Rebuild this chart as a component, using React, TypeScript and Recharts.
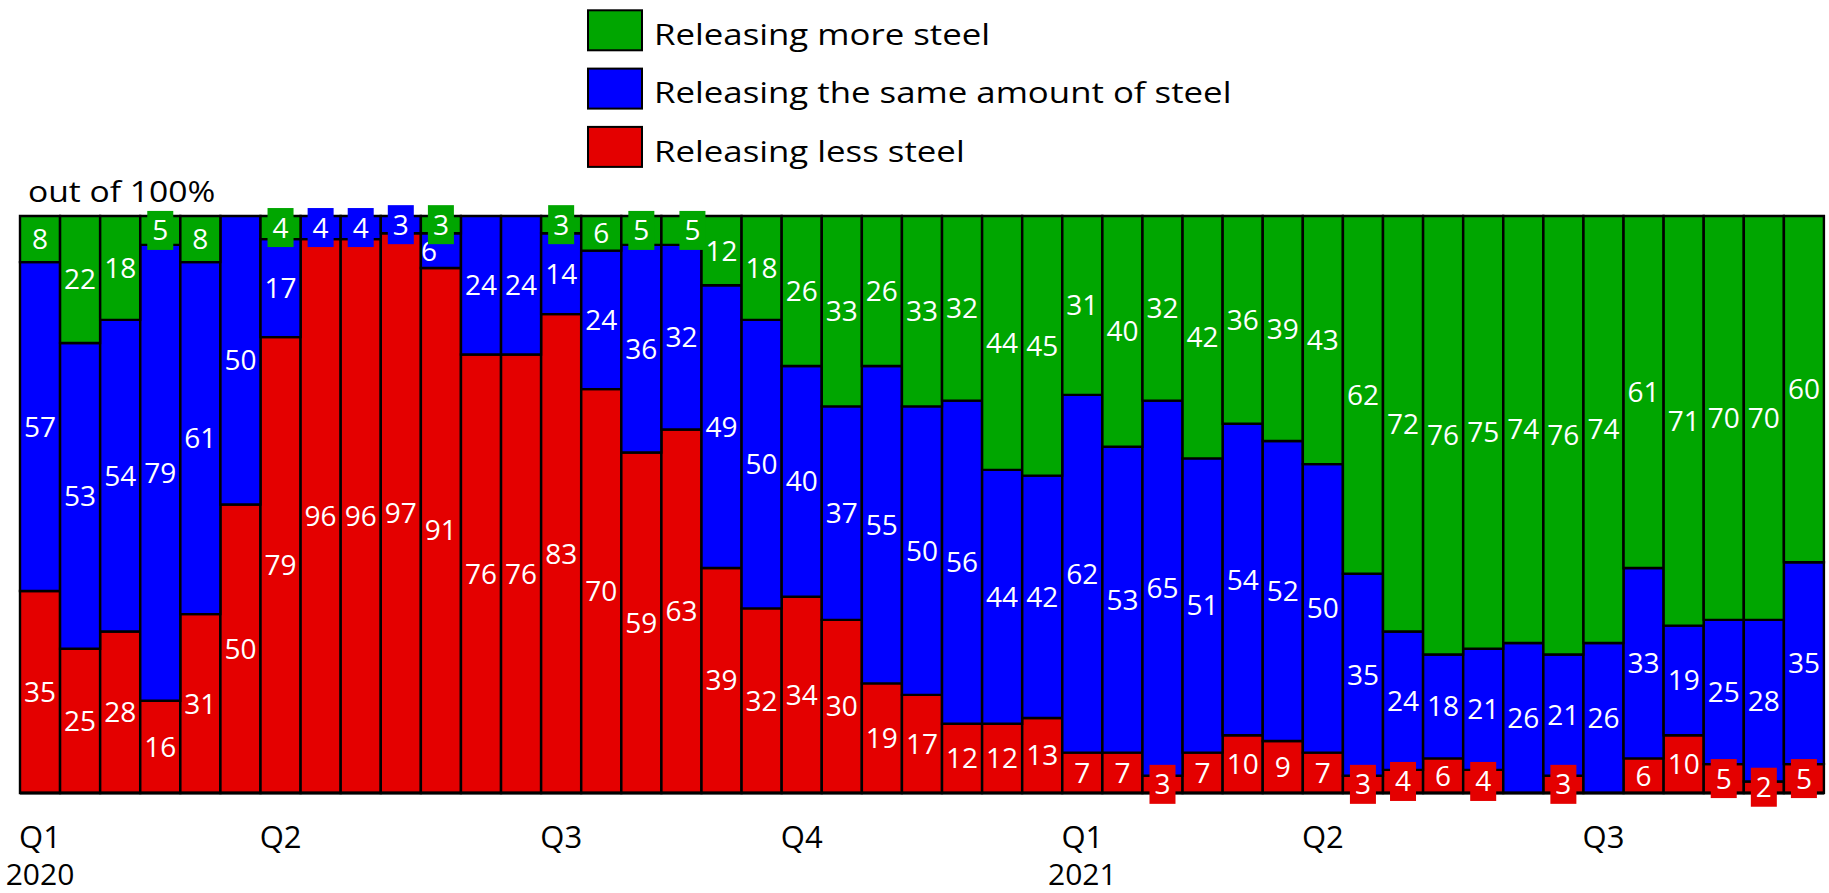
import React from "react";
import { BarChart, Bar, XAxis, YAxis, LabelList } from "recharts";

// survey rounds, two per month, Q1 2020 .. Q3 2021
const less = [
  35, 25, 28, 16, 31, 50, 79, 96, 96, 97, 91, 76, 76, 83, 70, 59, 63, 39, 32, 34,
  30, 19, 17, 12, 12, 13, 7, 7, 3, 7, 10, 9, 7, 3, 4, 6, 4, 0, 3, 0, 6, 10, 5, 2, 5,
];
const same = [
  57, 53, 54, 79, 61, 50, 17, 4, 4, 3, 6, 24, 24, 14, 24, 36, 32, 49, 50, 40, 37,
  55, 50, 56, 44, 42, 62, 53, 65, 51, 54, 52, 50, 35, 24, 18, 21, 26, 21, 26, 33,
  19, 25, 28, 35,
];
const more = [
  8, 22, 18, 5, 8, 0, 4, 0, 0, 0, 3, 0, 0, 3, 6, 5, 5, 12, 18, 26, 33, 26, 33, 32,
  44, 45, 31, 40, 32, 42, 36, 39, 43, 62, 72, 76, 75, 74, 76, 74, 61, 71, 70, 70, 60,
];

// which rounds carry a quarter tick
const tickSlots = [0, 6, 13, 19, 26, 32, 39];
const quarterNames = ["Q1", "Q2", "Q3", "Q4", "Q1", "Q2", "Q3"];
const yearNames = ["2020", "", "", "", "2021", "", ""];

const seriesNames = {
  more: "Releasing more steel",
  same: "Releasing the same amount of steel",
  less: "Releasing less steel",
};

const COLORS = { more: "#00a600", same: "#0000ff", less: "#e40000" };
const FONT = "'Open Sans', 'Noto Sans', sans-serif";

const data = less.map((v, i) => ({ slot: i, less: v, same: same[i], more: more[i] }));

const W = 1829;
const H = 893;
const MARGIN = { top: 216, right: 5, left: 20, bottom: 0 };
const AXIS_H = 100;

type Key = "less" | "same" | "more";

// a boxed label next to a small neighbour: push them apart sideways
const nudge = (key: Key, i: number) => {
  const g = more[i];
  const b = same[i];
  if (!(g > 0 && g <= 5 && b > 5 && b < 8)) return 0;
  if (key === "more") return 11;
  if (key === "same") return -12;
  return 0;
};

const segmentLabel = (key: Key) => (props: any) => {
  const vb = props.viewBox ?? props;
  const x = Number(vb.x ?? props.x);
  const y = Number(vb.y ?? props.y);
  const w = Number(vb.width ?? props.width);
  const h = Number(vb.height ?? props.height);
  const v = Number(props.value);
  if (!v || !isFinite(x) || !isFinite(y)) return null;
  const idx = Number(props.index);
  const top = h < 0 ? y + h : y;
  const cx = x + w / 2 + (isFinite(idx) ? nudge(key, idx) : 0);
  const cy = top + Math.abs(h) / 2;
  const boxed = v <= 5;
  return (
    <g>
      {boxed && (
        <rect x={cx - 13} y={cy - 19.5} width={26} height={39} fill={COLORS[key]} />
      )}
      <text
        x={cx}
        y={cy + 10}
        textAnchor="middle"
        fill="#ffffff"
        fontSize={28}
        fontFamily={FONT}
      >
        {v}
      </text>
    </g>
  );
};

const QuarterTick = (props: any) => {
  const { x, y, payload } = props;
  const k = tickSlots.indexOf(Number(payload?.value));
  if (k < 0) return <g />;
  return (
    <g>
      <text x={x} y={y + 55} textAnchor="middle" fontSize={31} fontFamily={FONT} fill="#000">
        {quarterNames[k]}
      </text>
      {yearNames[k] && (
        <text x={x} y={y + 92} textAnchor="middle" fontSize={30} fontFamily={FONT} fill="#000">
          {yearNames[k]}
        </text>
      )}
    </g>
  );
};

const legendRows: Key[] = ["more", "same", "less"];

export default function App() {
  return (
    <div style={{ position: "relative", width: W, height: H, fontFamily: FONT }}>
      <style>{"body{margin:0}"}</style>

      {/* bars */}
      <BarChart width={W} height={H} data={data} margin={MARGIN} barCategoryGap={0}>
        <XAxis
          dataKey="slot"
          type="category"
          interval={0}
          height={AXIS_H}
          tickLine={false}
          tickSize={0}
          tickMargin={0}
          axisLine={{ stroke: "#000", strokeWidth: 3 }}
          tick={<QuarterTick />}
        />
        <YAxis hide domain={[0, 100]} />
        <Bar dataKey="less" stackId="a" fill={COLORS.less} stroke="#000" strokeWidth={2.4} isAnimationActive={false} />
        <Bar dataKey="same" stackId="a" fill={COLORS.same} stroke="#000" strokeWidth={2.4} isAnimationActive={false} />
        <Bar dataKey="more" stackId="a" fill={COLORS.more} stroke="#000" strokeWidth={2.4} isAnimationActive={false} />
      </BarChart>

      {/* value labels on a second, transparent copy so they sit above every bar */}
      <div style={{ position: "absolute", left: 0, top: 0, pointerEvents: "none" }}>
        <BarChart
          width={W}
          height={H}
          data={data}
          margin={{ ...MARGIN, bottom: AXIS_H }}
          barCategoryGap={0}
        >
          <XAxis dataKey="slot" type="category" hide />
          <YAxis hide domain={[0, 100]} />
          {(["less", "same", "more"] as Key[]).map((k) => (
            <Bar key={k} dataKey={k} stackId="a" fill="none" stroke="none" isAnimationActive={false}>
              <LabelList dataKey={k} content={segmentLabel(k)} />
            </Bar>
          ))}
        </BarChart>
      </div>

      {/* legend and unit note */}
      <svg
        width={W}
        height={230}
        style={{ position: "absolute", left: 0, top: 0, pointerEvents: "none" }}
      >
        <g transform="translate(28,202) scale(1.18,1)">
          <text x={0} y={0} fontSize={28.5} fontFamily={FONT} fill="#000">
            out of 100%
          </text>
        </g>
        {legendRows.map((k, i) => (
          <g key={k}>
            <rect
              x={588}
              y={10.3 + i * 58.3}
              width={54}
              height={40}
              fill={COLORS[k]}
              stroke="#000"
              strokeWidth={2}
            />
            <g transform={`translate(654,${45 + i * 58.3}) scale(1.18,1)`}>
              <text x={0} y={0} fontSize={29.5} fontFamily={FONT} fill="#000">
                {seriesNames[k]}
              </text>
            </g>
          </g>
        ))}
      </svg>
    </div>
  );
}
